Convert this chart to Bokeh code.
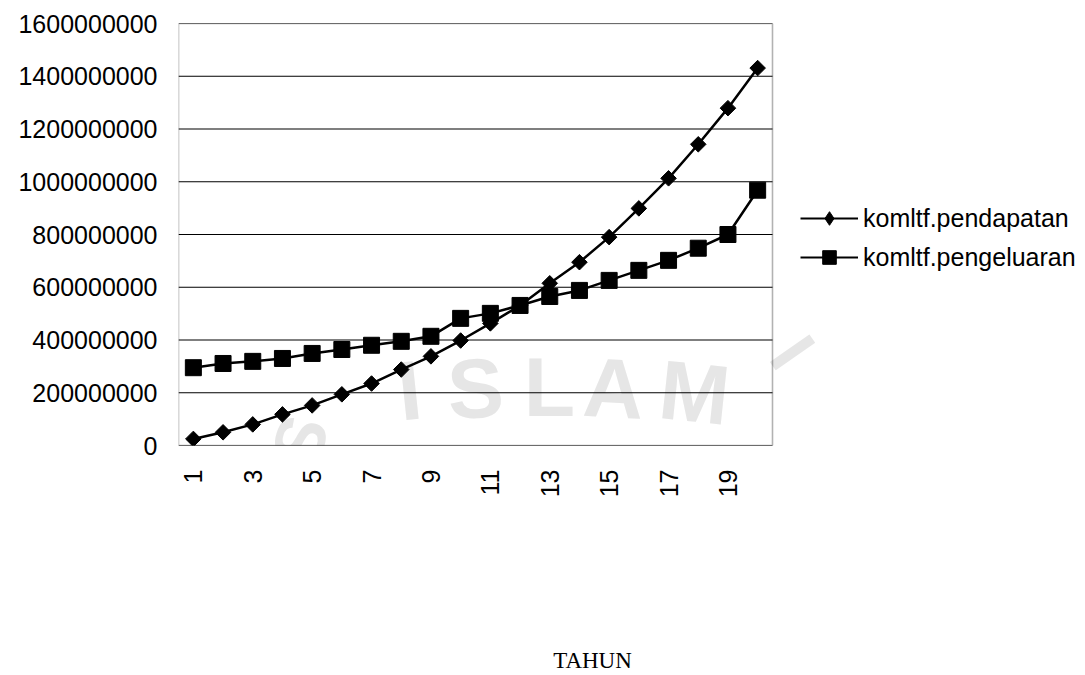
import math

from bokeh.embed import file_html
from bokeh.models import (BoxAnnotation, ColumnDataSource, FixedTicker, Label, Legend,
                          LegendItem, LinearAxis, Range1d)
from bokeh.plotting import figure
from bokeh.resources import INLINE

# cumulative income / expenditure per year
years = list(range(1, 21))
pendapatan = [25e6, 50e6, 80e6, 118e6, 152e6, 194e6, 235e6, 288e6, 338e6, 398e6,
              463e6, 531e6, 615e6, 695e6, 790e6, 899e6, 1013e6, 1142e6, 1279e6, 1431e6]
pengeluaran = [295e6, 311e6, 319e6, 330e6, 349e6, 364e6, 380e6, 395e6, 414e6, 482e6,
               501e6, 531e6, 565e6, 588e6, 626e6, 664e6, 702e6, 748e6, 800e6, 968e6]

series_names = ["komltf.pendapatan", "komltf.pengeluaran"]
x_ticks = [1, 3, 5, 7, 9, 11, 13, 15, 17, 19]
y_ticks = [0, 200000000, 400000000, 600000000, 800000000,
           1000000000, 1200000000, 1400000000, 1600000000]
y_tick_labels = [str(t) for t in y_ticks]
x_title = "TAHUN"
x_title_pos = 14.44   # horizontal placement of the axis title, in year units

SANS = "Liberation Sans"
SERIF = "Liberation Serif"

W, H = 1085, 675
LEFT, TOP, BOTTOM = 178, 23, 230
PLOT_W = 594            # width of the charted area; the legend sits to its right

x0, x1 = 0.5, len(years) + 0.5
y0, y1 = y_ticks[0], y_ticks[-1]
# the canvas frame runs to the right edge so the legend is not clipped
x_end = x0 + (x1 - x0) * (W - LEFT) / PLOT_W

p = figure(width=W, height=H, output_backend="svg", toolbar_location=None,
           x_range=Range1d(x0, x_end), y_range=Range1d(y0, y1),
           min_border_left=LEFT, min_border_right=0,
           min_border_top=TOP, min_border_bottom=BOTTOM)
p.background_fill_color = "white"
p.border_fill_color = "white"
p.outline_line_color = None

# faint background emblem lettering
wm_color = "#e6e6e6"
emblem = [
    # letter, x, y (canvas px), angle (deg), size
    ("I", 409, 390, 6, 84), ("S", 475, 388, 3, 84), ("L", 549, 386, 0, 84),
    ("A", 613, 388, -3, 84), ("M", 694, 392, -6, 84),
    ("S", 300, 440, 72, 70),
    ("I", 792, 352, -55, 70),
]
for ch, cx, cy, ang, sz in emblem:
    p.add_layout(Label(x=cx - LEFT, y=(H - BOTTOM) - cy, x_units="screen",
                       y_units="screen", text=ch, angle=math.radians(ang),
                       text_align="center", text_baseline="middle", text_font=SANS,
                       text_font_style="bold", text_font_size=f"{sz}px",
                       text_color=wm_color, level="image"))

# horizontal grid lines across the chart area only
p.xgrid.visible = False
p.ygrid.visible = False
p.segment(x0=[x0] * len(y_ticks), x1=[x1] * len(y_ticks), y0=y_ticks, y1=y_ticks,
          line_color="black", line_width=1.2, level="underlay")

# chart area border
p.add_layout(BoxAnnotation(left=x0, right=x1, bottom=y0, top=y1, fill_alpha=0,
                           line_color="black", line_width=1.6, level="underlay"))

# axes
p.yaxis.ticker = FixedTicker(ticks=y_ticks)
p.yaxis.major_label_overrides = dict(zip(y_ticks, y_tick_labels))
p.xaxis.ticker = FixedTicker(ticks=x_ticks)
for ax in (p.xaxis, p.yaxis):
    ax.axis_line_color = None
    ax.major_tick_line_color = None
    ax.minor_tick_line_color = None
    ax.major_tick_out = 0
    ax.major_tick_in = 0
    ax.major_label_text_font = SANS
    ax.major_label_text_font_size = "25px"
    ax.major_label_text_color = "black"
    ax.major_label_standoff = 21
p.xaxis.major_label_orientation = math.pi / 2
p.xaxis.major_label_standoff = 24

# axis title, set well below the year labels
title_axis = LinearAxis(ticker=FixedTicker(ticks=[x_title_pos]),
                        major_label_overrides={x_title_pos: x_title},
                        axis_line_color=None, major_tick_line_color=None,
                        minor_tick_line_color=None, major_tick_out=0, major_tick_in=0,
                        major_label_standoff=147, major_label_text_font=SERIF,
                        major_label_text_font_size="23px",
                        major_label_text_color="black")
p.add_layout(title_axis, "below")

# series
src = ColumnDataSource(dict(x=years, a=pendapatan, b=pengeluaran))
p.line("x", "a", source=src, line_color="black", line_width=2.5)
p.scatter("x", "a", source=src, marker="square", angle=math.pi / 4, size=11,
          fill_color="black", line_color="black")
p.line("x", "b", source=src, line_color="black", line_width=2.5)
p.scatter("x", "b", source=src, marker="square", size=16, fill_color="black",
          line_color="black")

# legend swatches (never drawn in the plot area)
nan = float("nan")
swatch = ColumnDataSource(dict(x=[nan], y=[nan]))
la = p.line("x", "y", source=swatch, line_color="black", line_width=2)
ma = p.scatter("x", "y", source=swatch, marker="diamond", size=14,
               fill_color="black", line_color="black")
lb = p.line("x", "y", source=swatch, line_color="black", line_width=2)
mb = p.scatter("x", "y", source=swatch, marker="square", size=12, fill_color="black",
               line_color="black")

legend = Legend(items=[LegendItem(label=series_names[0], renderers=[la, ma]),
                       LegendItem(label=series_names[1], renderers=[lb, mb])],
                location=(622, 171), orientation="vertical",
                glyph_width=58, glyph_height=34, label_height=20, label_standoff=5,
                spacing=5, padding=0, margin=0,
                border_line_color=None, background_fill_alpha=0,
                label_text_font=SANS, label_text_font_size="25px",
                label_text_color="black")
p.add_layout(legend)

open("out.html", "w").write(file_html(p, INLINE))
